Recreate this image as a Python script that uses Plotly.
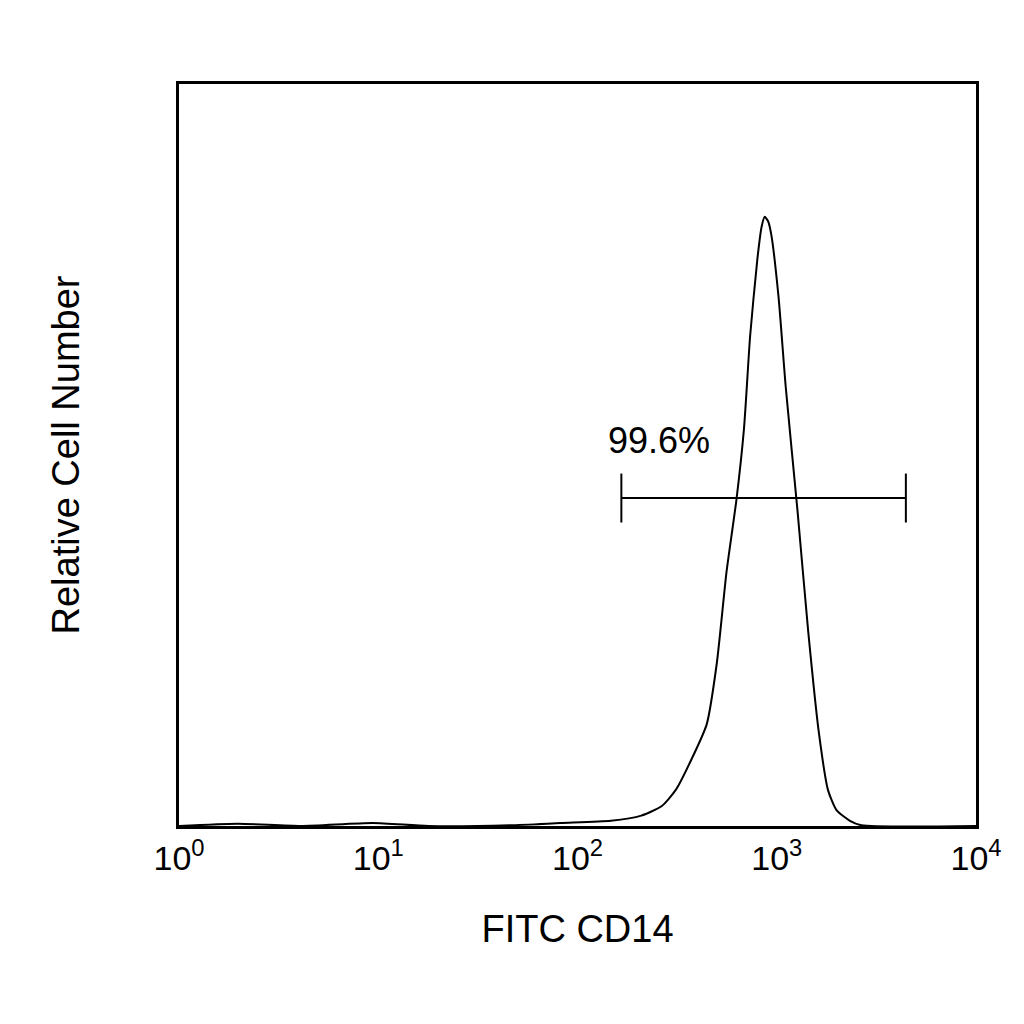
import numpy as np
import plotly.graph_objects as go

# histogram outline (FITC intensity, relative count)
fitc = [1, 1.97, 4.1, 9.4, 17.9, 46, 82, 147, 209, 265, 312, 372, 445, 500, 560, 627, 685, 735, 800, 840, 870,
        905, 940, 1020, 1110, 1270, 1440, 1630, 1810, 2000, 2330, 2660, 10000]
count = [0, 0.3, 0, 0.4, 0, 0.1, 0.4, 0.7, 1.4, 2.7, 4.9, 8.9, 13.7, 21.9, 34.3, 43.9, 53.6, 66.0, 76.5, 80.8, 82.1,
         81.5, 79.6, 71.4, 59.1, 42.6, 26.1, 12.4, 4.8, 2.1, 0.7, 0.1, 0]

gate_lo, gate_hi, gate_y, gate_cap = 166, 4446, 44.2, 3.3
gate_label = "99.6%"

fig = go.Figure()
fig.add_trace(go.Scatter(x=fitc, y=count, mode="lines", line=dict(color="black", width=2, shape="spline", smoothing=0.6),
                         hoverinfo="skip"))
fig.add_trace(go.Scatter(
    x=[gate_lo, gate_lo, None, gate_lo, gate_hi, None, gate_hi, gate_hi],
    y=[gate_y - gate_cap, gate_y + gate_cap, None, gate_y, gate_y, None, gate_y - gate_cap, gate_y + gate_cap],
    mode="lines", line=dict(color="black", width=2), hoverinfo="skip"))
fig.add_annotation(x=np.log10(255), y=gate_y + 7.8, text=gate_label, showarrow=False,
                   font=dict(size=36, color="black"))

fig.update_layout(
    width=1024, height=1024, showlegend=False,
    plot_bgcolor="white", paper_bgcolor="white",
    font=dict(family="Liberation Sans, Arial, sans-serif", color="black"),
    margin=dict(l=171, r=56, t=76, b=206),
    xaxis=dict(type="log", range=[0, 4], tickvals=[1, 10, 100, 1000, 10000],
               ticktext=["10<sup>0</sup>", "10<sup>1</sup>", "10<sup>2</sup>", "10<sup>3</sup>", "10<sup>4</sup>"],
               tickfont=dict(size=34), showgrid=False, zeroline=False,
               showline=True, mirror=True, linecolor="black", linewidth=3,
               title=dict(text="FITC CD14", font=dict(size=38), standoff=40)),
    yaxis=dict(range=[0, 100], showticklabels=False, ticks="", showgrid=False, zeroline=False,
               showline=True, mirror=True, linecolor="black", linewidth=3,
               title=dict(text="Relative Cell Number", font=dict(size=38), standoff=85)),
)
fig.write_html("out.html")
